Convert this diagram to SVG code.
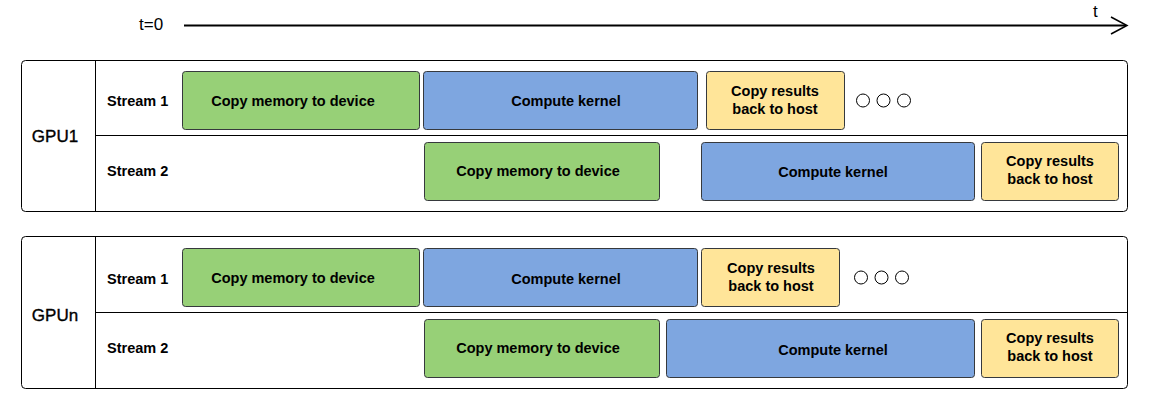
<svg xmlns="http://www.w3.org/2000/svg" width="1149" height="405" viewBox="0 0 1149 405">
<style>
.lane{fill:#fff;stroke:#000;stroke-width:1}
.div{stroke:#000;stroke-width:1;fill:none}
.g{fill:#97D077;stroke:#36393d;stroke-width:1}
.b{fill:#7EA6E0;stroke:#36393d;stroke-width:1}
.y{fill:#FFE599;stroke:#36393d;stroke-width:1}
.t{font-family:"Liberation Sans",Arial,sans-serif;font-size:14.5px;font-weight:bold;fill:#000;text-anchor:middle}
.s{font-family:"Liberation Sans",Arial,sans-serif;font-size:14.5px;font-weight:bold;fill:#000}
.gpu{font-family:"Liberation Sans",Arial,sans-serif;font-size:17px;fill:#000;stroke:#000;stroke-width:0.35;text-anchor:middle}
.ax{font-family:"Liberation Sans",Arial,sans-serif;font-size:17px;fill:#000}
.dot{fill:#fff;stroke:#000;stroke-width:1}
</style>
<g id="axis">
<text class="ax" x="139" y="30">t=0</text>
<text class="ax" x="1093" y="17">t</text>
</g>
<g id="connectors">
<line x1="184" y1="25.5" x2="1126" y2="25.5" stroke="#000" stroke-width="2"/>
<polyline points="1111,17 1127,25.5 1111,34" fill="none" stroke="#000" stroke-width="1.5"/>
</g>
<g id="gpu1">
<rect class="lane" x="21.5" y="60.5" width="1106" height="151" rx="4"/>
<line class="div" x1="95.5" y1="60.5" x2="95.5" y2="211.5"/>
<line class="div" x1="95.5" y1="135.5" x2="1127.5" y2="135.5"/>
<text class="gpu" x="55" y="142">GPU1</text>
<text class="s" x="107" y="106">Stream 1</text>
<text class="s" x="107" y="176">Stream 2</text>
</g>
<g id="gpu1-s1-copy"><rect class="g" x="182.5" y="71.5" width="237" height="58" rx="3"/><text class="t" x="293" y="106">Copy memory to device</text></g>
<g id="gpu1-s1-kernel"><rect class="b" x="423.5" y="71.5" width="274" height="58" rx="3"/><text class="t" x="566" y="106">Compute kernel</text></g>
<g id="gpu1-s1-results"><rect class="y" x="706.5" y="71.5" width="138" height="58" rx="3"/><text class="t" x="775" y="96">Copy results</text><text class="t" x="775" y="113.5">back to host</text></g>
<g id="gpu1-dots"><circle class="dot" cx="863" cy="100.5" r="6.5"/><circle class="dot" cx="883.5" cy="100.5" r="6.5"/><circle class="dot" cx="904" cy="100.5" r="6.5"/></g>
<g id="gpu1-s2-copy"><rect class="g" x="424.5" y="142.5" width="235" height="58" rx="3"/><text class="t" x="538" y="176">Copy memory to device</text></g>
<g id="gpu1-s2-kernel"><rect class="b" x="701.5" y="142.5" width="273" height="58" rx="3"/><text class="t" x="833" y="177">Compute kernel</text></g>
<g id="gpu1-s2-results"><rect class="y" x="981.5" y="142.5" width="137" height="58" rx="3"/><text class="t" x="1050" y="166">Copy results</text><text class="t" x="1050" y="184">back to host</text></g>
<g id="gpun">
<rect class="lane" x="21.5" y="236.5" width="1106" height="152" rx="4"/>
<line class="div" x1="95.5" y1="236.5" x2="95.5" y2="388.5"/>
<line class="div" x1="95.5" y1="312.5" x2="1127.5" y2="312.5"/>
<text class="gpu" x="55" y="321">GPUn</text>
<text class="s" x="107" y="284">Stream 1</text>
<text class="s" x="107" y="353">Stream 2</text>
</g>
<g id="gpun-s1-copy"><rect class="g" x="182.5" y="248.5" width="237" height="58" rx="3"/><text class="t" x="293" y="283">Copy memory to device</text></g>
<g id="gpun-s1-kernel"><rect class="b" x="423.5" y="248.5" width="274" height="58" rx="3"/><text class="t" x="566" y="284">Compute kernel</text></g>
<g id="gpun-s1-results"><rect class="y" x="701.5" y="248.5" width="138" height="58" rx="3"/><text class="t" x="771" y="273">Copy results</text><text class="t" x="771" y="290.5">back to host</text></g>
<g id="gpun-dots"><circle class="dot" cx="861" cy="277.5" r="6.5"/><circle class="dot" cx="881.5" cy="277.5" r="6.5"/><circle class="dot" cx="902" cy="277.5" r="6.5"/></g>
<g id="gpun-s2-copy"><rect class="g" x="424.5" y="319.5" width="235" height="58" rx="3"/><text class="t" x="538" y="353">Copy memory to device</text></g>
<g id="gpun-s2-kernel"><rect class="b" x="666.5" y="319.5" width="308" height="58" rx="3"/><text class="t" x="833" y="355">Compute kernel</text></g>
<g id="gpun-s2-results"><rect class="y" x="981.5" y="319.5" width="137" height="58" rx="3"/><text class="t" x="1050" y="343">Copy results</text><text class="t" x="1050" y="361">back to host</text></g>
</svg>
